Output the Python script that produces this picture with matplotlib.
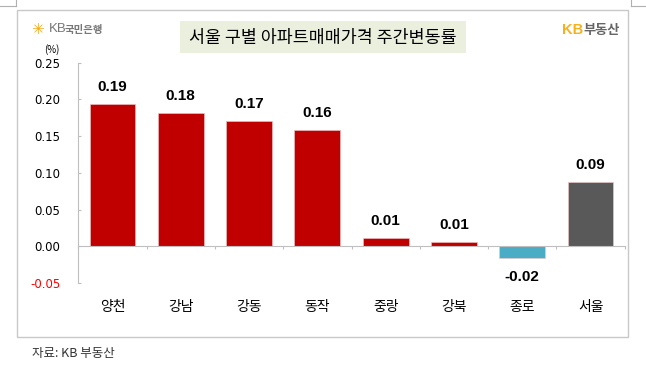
import matplotlib
matplotlib.use('Agg')
import matplotlib.pyplot as plt
import matplotlib.patches as patches
import numpy as np

plt.rcParams['font.family'] = ['Noto Sans CJK KR', 'DejaVu Sans']

# 데이터
districts = ['양천', '강남', '강동', '동작', '중랑', '강북', '종로', '서울']
changes = [0.194, 0.181, 0.170, 0.158, 0.011, 0.0055, -0.016, 0.088]
y_ticks = [-0.05, 0.00, 0.05, 0.10, 0.15, 0.20, 0.25]
title = '서울 구별 아파트매매가격 주간변동률'
source = '자료: KB 부동산'

W, H = 646, 375
fig = plt.figure(figsize=(W / 100, H / 100), dpi=100)
fx = lambda x: x / W
fy = lambda y: 1 - y / H

# 바깥 테두리
fig.patches.append(patches.Rectangle((fx(17), fy(337)), fx(628) - fx(17), fy(9.5) - fy(337),
                                     transform=fig.transFigure, fill=False,
                                     edgecolor='#c8c8c8', lw=1))
# 워드 모서리 표시
for xs, ys in [([16, 16], [0, 6]), ([0, 16], [6, 6]), ([631, 631], [0, 6]), ([631, 646], [6, 6])]:
    fig.add_artist(plt.Line2D([fx(v) for v in xs], [fy(v) for v in ys],
                              transform=fig.transFigure, color='#b0b0b0', lw=0.8))

ax = fig.add_axes([fx(78.3), fy(283), (624.7 - 78.3) / W, (283 - 62.7) / H])

colors = []
for name, v in zip(districts, changes):
    if name == '서울':
        colors.append('#595959')
    elif v < 0:
        colors.append('#4bacc6')
    else:
        colors.append('#c00000')

x = np.arange(len(districts))
bars = ax.bar(x, changes, width=0.67, color=colors, edgecolor='#f0c8c8', linewidth=0.4, zorder=2)

for i, v in enumerate(changes):
    off = 17 if v >= 0 else -19
    ax.annotate(f'{v:.2f}', xy=(i, v), xytext=(0, off * 0.72), textcoords='offset points',
                ha='center', va='center', fontsize=11, fontweight='bold',
                family='Liberation Sans', color='black')
    ax.annotate(districts[i], xy=(i, 0), xycoords=('data', 'axes fraction'),
                xytext=(0, -24 * 0.72), textcoords='offset points',
                ha='center', va='center', fontsize=10, color='black')

ax.set_xlim(-0.5, len(districts) - 0.5)
ax.set_ylim(-0.05, 0.25)
ax.set_yticks(y_ticks)
ax.set_yticklabels([f'{t:.2f}' for t in y_ticks], family='DejaVu Sans', fontsize=8.5)
for lbl, t in zip(ax.get_yticklabels(), y_ticks):
    lbl.set_color('red' if t < 0 else 'black')
ax.tick_params(axis='y', direction='in', length=2.2, color='#bfbfbf', pad=13)

ax.set_xticks(np.arange(-0.5, len(districts)))
ax.set_xticklabels([])
ax.tick_params(axis='x', direction='out', length=2.2, color='#bfbfbf')

for s in ['top', 'right']:
    ax.spines[s].set_visible(False)
ax.spines['left'].set_color('#bfbfbf')
ax.spines['bottom'].set_color('#bfbfbf')
ax.spines['bottom'].set_position(('data', 0))

# 제목
fig.patches.append(patches.Rectangle((fx(180), fy(53)), fx(466) - fx(180), fy(21) - fy(53),
                                     transform=fig.transFigure, facecolor='#ebf0de',
                                     edgecolor='none'))
fig.text(fx(323), fy(37.5), title, ha='center', va='center', fontsize=12.5, color='black')

# 로고
fig.text(fx(37), fy(29.5), '✳', ha='center', va='center', fontsize=11,
         color='#f5a81b', family='DejaVu Sans', fontweight='bold')
fig.text(fx(49), fy(29.5), 'KB', ha='left', va='center', fontsize=9.5, color='#777777',
         family='Liberation Sans')
fig.text(fx(65), fy(29.5), '국민은행', ha='left', va='center', fontsize=7.5, color='#777777',
         fontweight='bold')
fig.text(fx(562), fy(30), 'KB', ha='left', va='center', fontsize=10.5, color='#f5b21b',
         fontweight='bold', family='Liberation Sans')
fig.text(fx(583), fy(30), '부동산', ha='left', va='center', fontsize=9.5, color='#666666',
         fontweight='bold')

fig.text(fx(52), fy(50), '(%)', ha='center', va='center', fontsize=7, color='black')

fig.text(fx(32), fy(353), source, ha='left', va='center', fontsize=9, color='#333333')

fig.savefig('out.png', dpi=100)
